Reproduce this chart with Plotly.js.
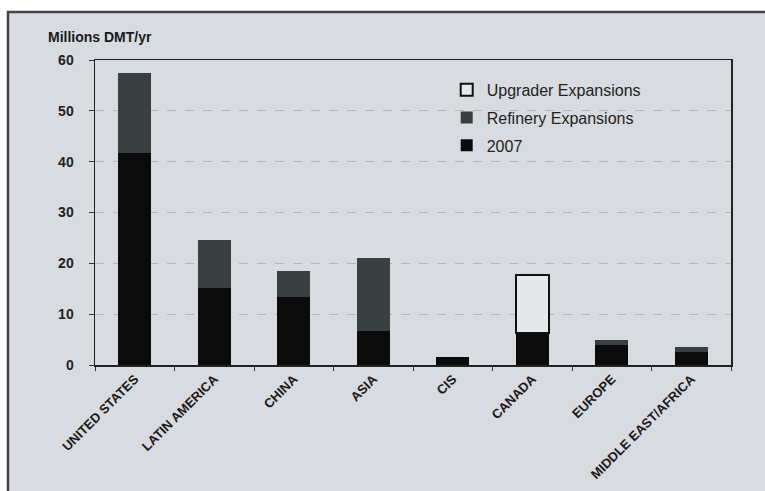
<!DOCTYPE html>
<html>
<head>
<meta charset="utf-8">
<script src="https://cdn.plot.ly/plotly-3.0.1.min.js"></script>
<style>
html,body{margin:0;padding:0;background:#fff;}
#chart{width:765px;height:491px;}
</style>
</head>
<body>
<div id="chart"></div>
<script>
var categories = ["UNITED STATES", "LATIN AMERICA", "CHINA", "ASIA", "CIS", "CANADA", "EUROPE", "MIDDLE EAST/AFRICA"];
var base2007 = [41.8, 15.1, 13.3, 6.7, 1.6, 6.2, 4.0, 2.5];
var refineryExp = [15.7, 9.5, 5.2, 14.4, 0, 0, 1.0, 1.0];
var upgraderExp = [0, 0, 0, 0, 0, 11.5, 0, 0];
var yTicks = [0, 10, 20, 30, 40, 50, 60];

function nz(arr) { return arr.map(function (v) { return v ? v : null; }); }

var bg = "#d8dbdf";
var traces = [
  {type: "bar", name: "2007", x: categories, y: base2007, legendgroup: "a", legendrank: 3,
   marker: {color: "#0b0b0b", line: {width: 0}}},
  {type: "bar", name: "Refinery Expansions", x: categories, y: nz(refineryExp), legendgroup: "b", legendrank: 2,
   marker: {color: "#394040", line: {width: 0}}},
  {type: "bar", name: "Upgrader Expansions", x: categories, y: nz(upgraderExp), legendgroup: "c", legendrank: 1,
   marker: {color: "#e6e8ea", line: {color: "#111", width: 2}}}
];

var layout = {
  width: 765, height: 491,
  margin: {l: 95, r: 34, t: 60, b: 126},
  paper_bgcolor: "#ffffff",
  plot_bgcolor: bg,
  barmode: "stack",
  bargap: 0.58,
  font: {family: "Liberation Sans, Arial, sans-serif", color: "#1a1a1a"},
  showlegend: true,
  legend: {x: 0.553, y: 0.958, xanchor: "left", yanchor: "top",
    traceorder: "grouped", tracegroupgap: 4,
    bgcolor: "rgba(0,0,0,0)", font: {size: 16, color: "#222"}},
  xaxis: {
    type: "category", tickangle: -45, tickson: "boundaries",
    ticks: "outside", ticklen: 4, tickcolor: "#333",
    showline: true, linecolor: "#222", linewidth: 1.5, mirror: true,
    tickfont: {size: 13, family: "Liberation Sans, Arial, sans-serif", weight: "bold", color: "#1a1a1a"},
    showgrid: false, fixedrange: true
  },
  yaxis: {
    range: [0, 60], tickvals: yTicks, ticktext: yTicks.map(String),
    ticks: "outside", ticklen: 5, tickcolor: "#333",
    showline: true, linecolor: "#222", linewidth: 1.5, mirror: true,
    showgrid: true, gridcolor: "#b3b7bc", griddash: "dash", gridwidth: 1,
    zeroline: false,
    tickfont: {size: 14, weight: "bold", color: "#222"},
    ticklabelstandoff: 12, fixedrange: true
  },
  shapes: [
    {type: "rect", xref: "paper", yref: "paper", layer: "below",
     x0: -0.1368, x1: 1.2, y0: -0.6, y1: 1.157,
     fillcolor: bg, line: {color: "#444", width: 2.5}}
  ],
  annotations: [
    {xref: "paper", yref: "paper", x: -0.077, y: 1.075, xanchor: "left", yanchor: "middle",
     text: "Millions DMT/yr", showarrow: false,
     font: {size: 14, weight: "bold", color: "#1a1a1a"}}
  ]
};

Plotly.newPlot("chart", traces, layout, {displayModeBar: false, staticPlot: true});
</script>
</body>
</html>
